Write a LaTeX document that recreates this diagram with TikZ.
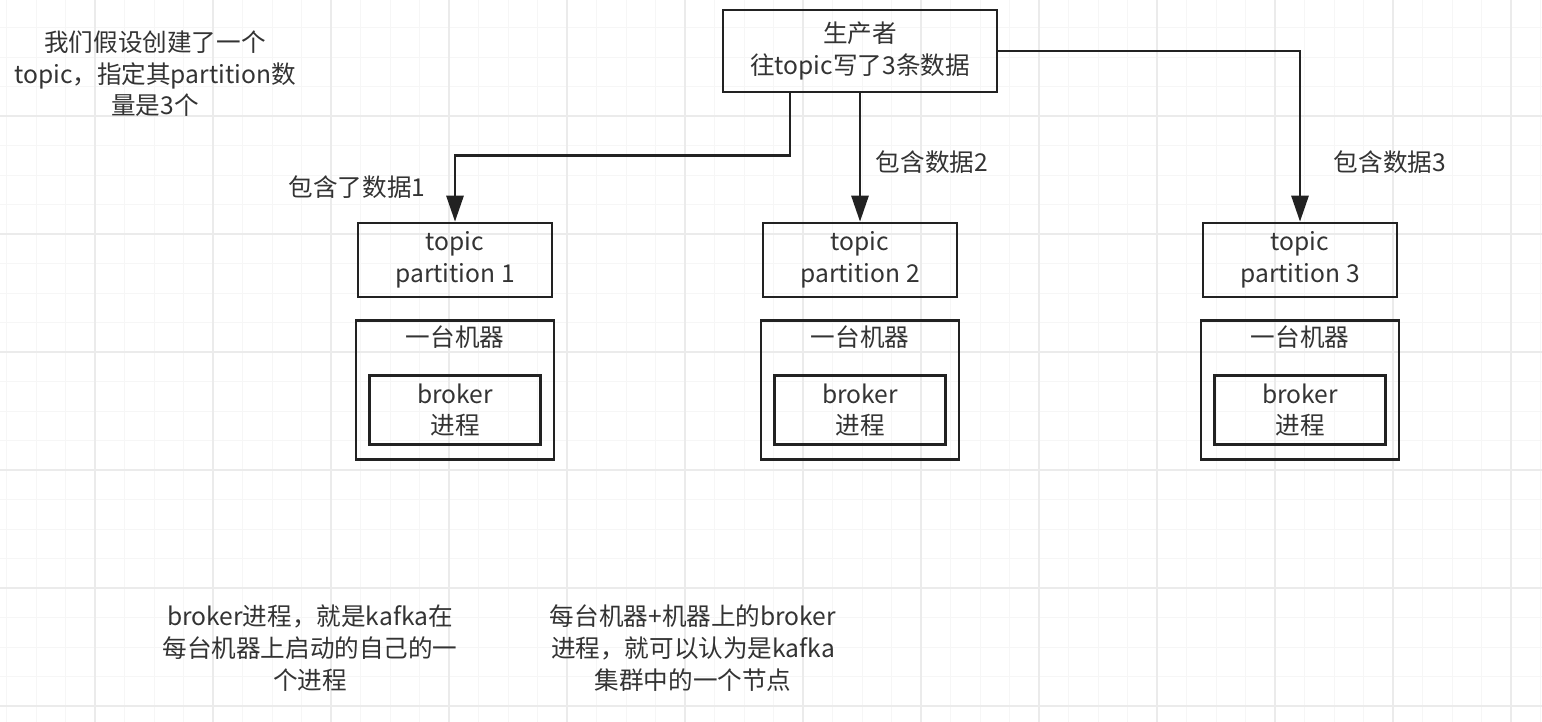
\documentclass[tikz,border=0pt]{standalone}
\usepackage{fontspec}
\setmainfont{Noto Sans CJK SC}
\usepackage{xcolor}
\usepackage{tikz}
\usetikzlibrary{arrows.meta, positioning, calc}

\definecolor{textgray}{HTML}{333333}
\definecolor{linegray}{HTML}{222222}

\begin{document}
\begin{tikzpicture}[x=0.02cm, y=-0.02cm, >={Triangle[length=0.52cm, width=0.34cm]},
            txt/.style={text=textgray, font=\fontsize{14}{18}\selectfont, align=center, inner sep=1pt},
            box/.style={txt, draw=linegray, line width=1.5pt, rectangle},
            partbox/.style={box, minimum width=3.88cm, minimum height=1.48cm},
            machbox/.style={box, minimum width=3.96cm, minimum height=2.78cm},
            brokbox/.style={box, minimum width=3.42cm, minimum height=1.38cm},
            arr/.style={->, draw=linegray, line width=1.6pt},
            gridminor/.style={gray!7, line width=0.4pt},
            gridmajor/.style={gray!16, line width=0.6pt}]

            \useasboundingbox[fill=white] (0,0) rectangle (1542,722);

            % background grid
            \foreach \gx in {6.5,36,...,1542} \draw[gridminor] (\gx,0) -- (\gx,722);
            \foreach \gy in {27.5,57,...,722} \draw[gridminor] (0,\gy) -- (1542,\gy);
            \foreach \gx in {95,213,...,1542} \draw[gridmajor] (\gx,0) -- (\gx,722);
            \foreach \gy in {116,234,...,722} \draw[gridmajor] (0,\gy) -- (1542,\gy);

            \node[txt] (note) at (155,74) {我们假设创建了一个\\topic，指定其partition数\\量是3个};

            \node[box, minimum width=5.48cm, minimum height=1.64cm] (prod) at (860,51) {生产者\\往topic写了3条数据};

            \node[partbox] (p1) at (455,260) {topic\\partition 1};
            \node[partbox] (p2) at (860,260) {topic\\partition 2};
            \node[partbox] (p3) at (1300,260) {topic\\partition 3};

            \node[machbox, below=0.42cm of p1] (m1) {};
            \node[machbox, below=0.42cm of p2] (m2) {};
            \node[machbox, below=0.42cm of p3] (m3) {};

            \node[txt, below=0.08cm of m1.north] (m1t) {一台机器};
            \node[txt, below=0.08cm of m2.north] (m2t) {一台机器};
            \node[txt, below=0.08cm of m3.north] (m3t) {一台机器};

            \node[brokbox, above=0.3cm of m1.south] (b1) {broker\\进程};
            \node[brokbox, above=0.3cm of m2.south] (b2) {broker\\进程};
            \node[brokbox, above=0.3cm of m3.south] (b3) {broker\\进程};

            \draw[arr] ($(prod.south)+(-70,0)$) |- ($(p1.north)+(0,-66)$) -- (p1.north);
            \draw[arr] (prod.south) -- (p2.north);
            \draw[arr] (prod.east) -| (p3.north);

            \node[txt] (l1) at (357,187) {包含了数据1};
            \node[txt] (l2) at (932,162) {包含数据2};
            \node[txt] (l3) at (1390,162) {包含数据3};

            \node[txt] (n1) at (310,648) {broker进程，就是kafka在\\每台机器上启动的自己的一\\个进程};
            \node[txt] (n2) at (693,648) {每台机器+机器上的broker\\进程，就可以认为是kafka\\集群中的一个节点};
        \end{tikzpicture}
\end{document}
